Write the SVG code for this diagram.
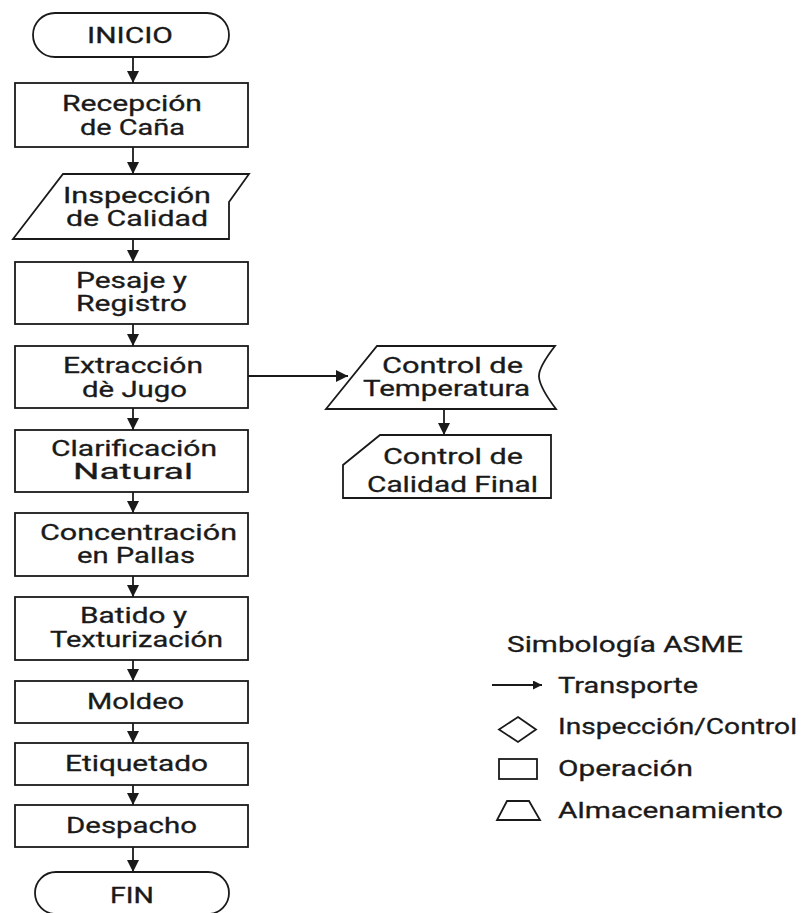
<svg xmlns="http://www.w3.org/2000/svg" width="802" height="913" viewBox="0 0 802 913">
<defs>
<style>
.s{fill:#fff;stroke:#1a1a1a;stroke-width:1.8}
.t{font-family:Roboto,"Liberation Sans",sans-serif;font-size:22px;font-weight:400;fill:#1a1a1a;stroke:#1a1a1a;stroke-width:0.3}
.c{stroke:#1a1a1a;stroke-width:1.8;fill:none}
</style>
<marker id="ah" viewBox="0 0 10 10" refX="10" refY="5" markerWidth="12" markerHeight="12" markerUnits="userSpaceOnUse" orient="auto">
<path d="M0,0 L10,5 L0,10 Z" fill="#1a1a1a"/>
</marker>
<marker id="ahs" viewBox="0 0 10 10" refX="10" refY="5" markerWidth="9" markerHeight="9" markerUnits="userSpaceOnUse" orient="auto">
<path d="M0,0 L10,5 L0,10 Z" fill="#1a1a1a"/>
</marker>
</defs>
<rect width="802" height="913" fill="#fff"/>
<g id="connectors">
<line class="c" x1="133" y1="57" x2="133" y2="83" marker-end="url(#ah)"/>
<line class="c" x1="133" y1="147" x2="133" y2="174" marker-end="url(#ah)"/>
<line class="c" x1="133" y1="239" x2="133" y2="262" marker-end="url(#ah)"/>
<line class="c" x1="133" y1="324" x2="133" y2="346" marker-end="url(#ah)"/>
<line class="c" x1="133" y1="408" x2="133" y2="430" marker-end="url(#ah)"/>
<line class="c" x1="133" y1="492" x2="133" y2="513" marker-end="url(#ah)"/>
<line class="c" x1="133" y1="576" x2="133" y2="597" marker-end="url(#ah)"/>
<line class="c" x1="133" y1="660" x2="133" y2="681" marker-end="url(#ah)"/>
<line class="c" x1="133" y1="723" x2="133" y2="743" marker-end="url(#ah)"/>
<line class="c" x1="133" y1="785" x2="133" y2="805" marker-end="url(#ah)"/>
<line class="c" x1="133" y1="847" x2="133" y2="872" marker-end="url(#ah)"/>
<line class="c" x1="248" y1="376" x2="348" y2="376" marker-end="url(#ah)"/>
<line class="c" x1="444" y1="409" x2="444" y2="435" marker-end="url(#ah)"/>
</g>
<g id="inicio">
<rect class="s" x="33" y="13" width="196" height="44" rx="22"/>
<text class="t" x="87" y="43" textLength="86" lengthAdjust="spacingAndGlyphs">INICIO</text>
</g>
<g id="recepcion">
<rect class="s" x="15" y="83" width="233" height="64"/>
<text class="t" x="62" y="111" textLength="140" lengthAdjust="spacingAndGlyphs">Recepción</text>
<text class="t" x="80" y="135" textLength="105" lengthAdjust="spacingAndGlyphs">de Caña</text>
</g>
<g id="inspeccion">
<polygon class="s" points="63,174 249,174 229,202 229,239 13,239"/>
<text class="t" x="63" y="203" textLength="148" lengthAdjust="spacingAndGlyphs">Inspección</text>
<text class="t" x="66" y="226" textLength="142" lengthAdjust="spacingAndGlyphs">de Calidad</text>
</g>
<g id="pesaje">
<rect class="s" x="15" y="262" width="233" height="62"/>
<text class="t" x="76" y="288" textLength="111" lengthAdjust="spacingAndGlyphs">Pesaje y</text>
<text class="t" x="76" y="311" textLength="111" lengthAdjust="spacingAndGlyphs">Registro</text>
</g>
<g id="extraccion">
<rect class="s" x="15" y="346" width="233" height="62"/>
<text class="t" x="63" y="373" textLength="140" lengthAdjust="spacingAndGlyphs">Extracción</text>
<text class="t" x="82" y="397" textLength="105" lengthAdjust="spacingAndGlyphs">dè Jugo</text>
</g>
<g id="clarificacion">
<rect class="s" x="15" y="430" width="233" height="62"/>
<text class="t" x="51" y="456" textLength="166" lengthAdjust="spacingAndGlyphs">Clarificación</text>
<text class="t" x="73" y="479" textLength="120" lengthAdjust="spacingAndGlyphs">Natural</text>
</g>
<g id="concentracion">
<rect class="s" x="15" y="513" width="233" height="63"/>
<text class="t" x="40" y="540" textLength="197" lengthAdjust="spacingAndGlyphs">Concentración</text>
<text class="t" x="77" y="563" textLength="118" lengthAdjust="spacingAndGlyphs">en Pallas</text>
</g>
<g id="batido">
<rect class="s" x="15" y="597" width="233" height="63"/>
<text class="t" x="80" y="623" textLength="107" lengthAdjust="spacingAndGlyphs">Batido y</text>
<text class="t" x="50" y="647" textLength="173" lengthAdjust="spacingAndGlyphs">Texturización</text>
</g>
<g id="moldeo">
<rect class="s" x="15" y="681" width="233" height="42"/>
<text class="t" x="87" y="709" textLength="97" lengthAdjust="spacingAndGlyphs">Moldeo</text>
</g>
<g id="etiquetado">
<rect class="s" x="15" y="743" width="233" height="42"/>
<text class="t" x="65" y="771" textLength="143" lengthAdjust="spacingAndGlyphs">Etiquetado</text>
</g>
<g id="despacho">
<rect class="s" x="15" y="805" width="233" height="42"/>
<text class="t" x="66" y="833" textLength="131" lengthAdjust="spacingAndGlyphs">Despacho</text>
</g>
<g id="fin">
<rect class="s" x="35" y="872" width="194" height="42" rx="21"/>
<text class="t" x="110" y="903" textLength="44" lengthAdjust="spacingAndGlyphs">FIN</text>
</g>
<g id="control-temperatura">
<path class="s" d="M377,346 L555,346 Q538,368 539,377 Q540,388 556,409 L326,409 Z"/>
<text class="t" x="382" y="373" textLength="141" lengthAdjust="spacingAndGlyphs">Control de</text>
<text class="t" x="363" y="396" textLength="167" lengthAdjust="spacingAndGlyphs">Temperatura</text>
</g>
<g id="control-calidad-final">
<polygon class="s" points="380,435 551,435 551,498 343,498 343,465"/>
<text class="t" x="383" y="464" textLength="140" lengthAdjust="spacingAndGlyphs">Control de</text>
<text class="t" x="367" y="492" textLength="171" lengthAdjust="spacingAndGlyphs">Calidad Final</text>
</g>
<g id="legend">
<text class="t" x="507" y="652" textLength="236" lengthAdjust="spacingAndGlyphs">Simbología ASME</text>
<line class="c" x1="492" y1="685" x2="542" y2="685" marker-end="url(#ahs)"/>
<text class="t" x="558" y="693" textLength="140" lengthAdjust="spacingAndGlyphs">Transporte</text>
<polygon class="s" points="518,717 536,729.5 518,742 499,729.5"/>
<text class="t" x="558" y="734" textLength="239" lengthAdjust="spacingAndGlyphs">Inspección/Control</text>
<rect class="s" x="499" y="759" width="38" height="20"/>
<text class="t" x="558" y="776" textLength="135" lengthAdjust="spacingAndGlyphs">Operación</text>
<polygon class="s" points="507,801 529,801 540,820 497,820"/>
<text class="t" x="558" y="818" textLength="225" lengthAdjust="spacingAndGlyphs">Almacenamiento</text>
</g>
</svg>
